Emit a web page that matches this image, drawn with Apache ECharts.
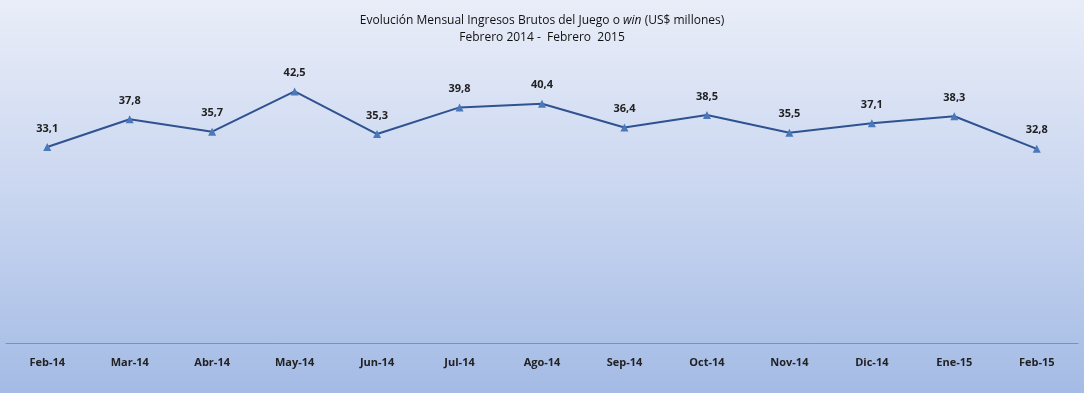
<!DOCTYPE html>
<html><head><meta charset="utf-8">
<script src="https://cdn.jsdelivr.net/npm/echarts@6/dist/echarts.min.js"></script>
<style>html,body{margin:0;padding:0;}#c{width:1084px;height:393px;}</style>
</head><body><div id="c"></div>
<script>
const categories = ['Feb-14','Mar-14','Abr-14','May-14','Jun-14','Jul-14','Ago-14','Sep-14','Oct-14','Nov-14','Dic-14','Ene-15','Feb-15'];
const winValues = [33.1,37.8,35.7,42.5,35.3,39.8,40.4,36.4,38.5,35.5,37.1,38.3,32.8];
const titleLine1 = 'Evolución Mensual Ingresos Brutos del Juego o {i|win} (US$ millones)';
const titleLine2 = 'Febrero 2014 -  Febrero  2015';

const chart = echarts.init(document.getElementById('c'));
const font = '"Open Sans", "Noto Sans", sans-serif';
chart.setOption({
  animation: false,
  graphic: [{
    type: 'rect', z: -10, silent: true,
    shape: {x: 0, y: 0, width: 1084, height: 393},
    style: {fill: new echarts.graphic.LinearGradient(0, 0, 0, 1, [
      {offset: 0, color: '#e9edf8'},
      {offset: 0.5, color: '#c9d6f0'},
      {offset: 1, color: '#a4bbe5'}
    ])}
  }],
  title: {
    text: titleLine1 + '\n' + titleLine2,
    left: 'center', top: 7,
    textStyle: {
      fontFamily: font, fontSize: 12, fontWeight: 'normal', color: '#111', lineHeight: 17,
      rich: {i: {fontStyle: 'italic', fontFamily: font, fontSize: 12, color: '#111'}}
    }
  },
  grid: {left: 6, right: 6, top: 47, bottom: 50},
  xAxis: {
    type: 'category', data: categories, boundaryGap: true,
    axisLine: {lineStyle: {color: '#8a8f99', width: 1}},
    axisTick: {show: false},
    axisLabel: {fontFamily: font, fontSize: 11, fontWeight: 'bold', color: '#222', margin: 14}
  },
  yAxis: {type: 'value', min: 0, max: 50, show: false, splitLine: {show: false}},
  series: [{
    type: 'line', data: winValues,
    symbol: 'triangle', symbolSize: 8,
    lineStyle: {color: '#2f5290', width: 2},
    itemStyle: {color: '#4a78b8'},
    label: {
      show: true, position: 'top', distance: 9,
      fontFamily: font, fontSize: 11, fontWeight: 'bold', color: '#222',
      formatter: p => p.value.toFixed(1).replace('.', ',')
    }
  }]
});
</script></body></html>
